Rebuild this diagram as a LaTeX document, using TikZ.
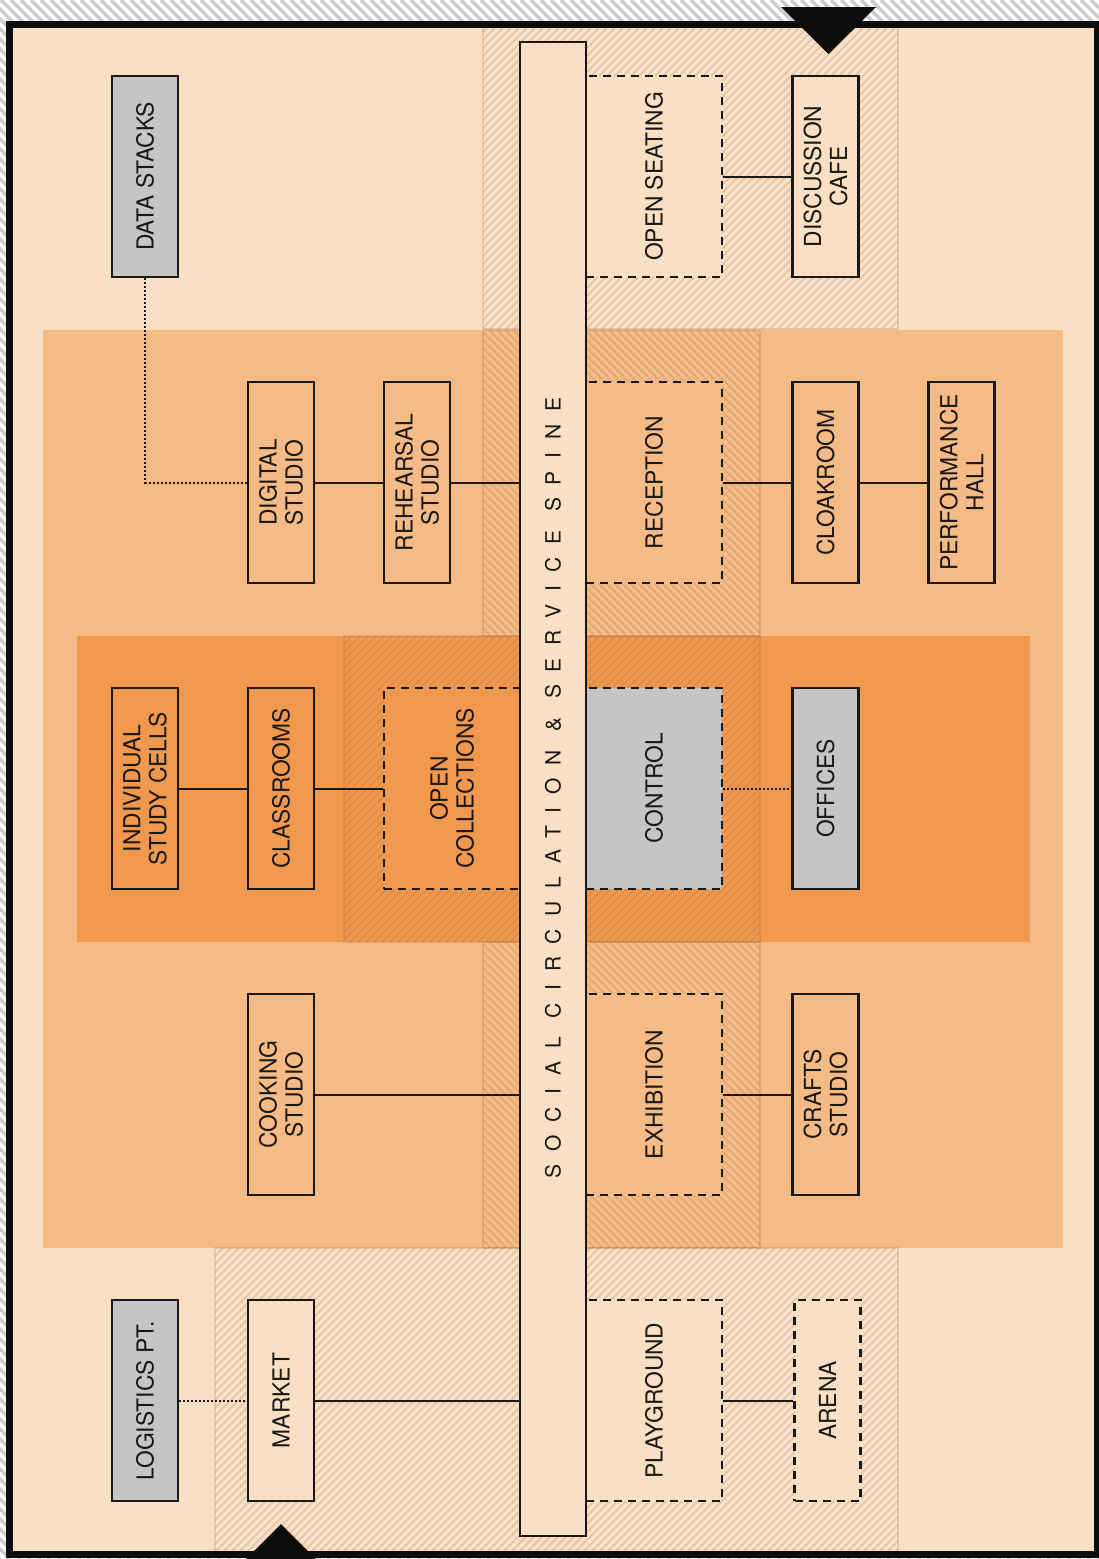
\documentclass[tikz,border=0pt]{standalone}
\usepackage{fontspec}
\usepackage{graphicx}
\newfontfamily\boxfont[FakeStretch=0.97]{TeX Gyre Heros}
\newfontfamily\spinefont[LetterSpace=61]{TeX Gyre Heros}
\definecolor{peach}{RGB}{249,223,196}
\definecolor{lorange}{RGB}{245,187,135}
\definecolor{dorange}{RGB}{241,152,79}
\definecolor{greybox}{RGB}{197,197,197}
\definecolor{textc}{RGB}{26,24,20}
\definecolor{hatchc}{RGB}{150,100,60}
\definecolor{outerhatch}{RGB}{204,204,204}
\newcommand\vlab[1]{\rotatebox{90}{\vbox{\baselineskip=26pt\halign{\hfil##\hfil\cr#1\crcr}}}}
% "/" hatch: x+y=c
\newcommand\hatchNE[5]{%
  \begin{scope}
    \clip (#1,#2) rectangle (#3,#4);
    \pgfmathsetmacro\cA{#1+#2}
    \pgfmathtruncatemacro\nN{((#3+#4)-(#1+#2))/#5+1}
    \foreach \i in {0,...,\nN}{
      \pgfmathsetmacro\c{\cA+#5*\i}
      \draw[hatchline] (\c-#4,#4) -- (\c-#2,#2);
    }
  \end{scope}}
% "\" hatch: x-y=c
\newcommand\hatchNW[5]{%
  \begin{scope}
    \clip (#1,#2) rectangle (#3,#4);
    \pgfmathsetmacro\cA{#1-#4}
    \pgfmathtruncatemacro\nN{((#3-#2)-(#1-#4))/#5+1}
    \foreach \i in {0,...,\nN}{
      \pgfmathsetmacro\c{\cA+#5*\i}
      \draw[hatchline] (\c+#2,#2) -- (\c+#4,#4);
    }
  \end{scope}}
\begin{document}
\begin{tikzpicture}[x=1pt,y=-1pt,
  hatchline/.style={draw=hatchc, draw opacity=0.27, line width=1.2pt},
  zoneborder/.style={draw=hatchc, draw opacity=0.2, line width=2pt},
  room/.style={draw=textc, line width=2.4pt, minimum width=66pt, minimum height=201pt,
    inner sep=0pt, text=textc, font=\boxfont\fontsize{23.5}{26}\selectfont},
  droom/.style={room, dash pattern=on 8pt off 6pt},
  wideroom/.style={minimum width=136pt},
  conn/.style={draw=textc, line width=2pt},
  dotconn/.style={draw=textc, line width=2pt, dash pattern=on 2pt off 2pt}]
\useasboundingbox (0,0) rectangle (1099,1559);
% outer margin
\fill[white] (0,0) rectangle (1099,1559);
\begin{scope}[hatchline/.style={draw=outerhatch, line width=3.2pt}]
  \hatchNW{0}{0}{1099}{1559}{10}
\end{scope}
% site
\fill[peach] (9.5,24) rectangle (1097.5,1554);
\fill[lorange] (43,330) rectangle (1063,1248);
\fill[dorange] (77,636) rectangle (1030,942);
% hatched zones
\hatchNE{483}{24}{898}{329}{8}
\draw[zoneborder] (483,24) rectangle (898,329);
\hatchNW{483}{330}{760}{636}{8}
\draw[zoneborder] (483,330) rectangle (760,636);
\hatchNE{344}{636}{760}{942}{8}
\draw[zoneborder] (344,636) rectangle (760,942);
\hatchNW{483}{942}{760}{1248}{8}
\draw[zoneborder] (483,942) rectangle (760,1248);
\hatchNE{215}{1248}{898}{1554}{8}
\draw[zoneborder] (215,1248) rectangle (898,1554);
% rooms
\node[room, fill=greybox] (ds) at (145,176.5) {\vlab{DATA STACKS}};
\node[droom, wideroom, fill=peach] (os) at (654,176.5) {\vlab{OPEN SEATING}};
\node[room, fill=peach] (dc) at (825.5,176.5) {\vlab{DISCUSSION\cr CAFE}};
\node[room, fill=lorange] (dig) at (281,482.5) {\vlab{DIGITAL\cr STUDIO}};
\node[room, fill=lorange] (reh) at (417,482.5) {\vlab{REHEARSAL\cr STUDIO}};
\node[droom, wideroom, fill=lorange] (rec) at (654,482.5) {\vlab{RECEPTION}};
\node[room, fill=lorange] (clk) at (825.5,482.5) {\vlab{CLOAKROOM}};
\node[room, fill=lorange] (perf) at (961.5,482.5) {\vlab{PERFORMANCE\cr HALL}};
\node[room, fill=dorange] (isc) at (145,788.5) {\vlab{INDIVIDUAL\cr STUDY CELLS}};
\node[room, fill=dorange] (cls) at (281,788.5) {\vlab{CLASSROOMS}};
\node[droom, wideroom, fill=dorange] (oc) at (452,788.5) {\vlab{OPEN\cr COLLECTIONS}};
\node[droom, wideroom, fill=greybox] (ctrl) at (654,788.5) {\vlab{CONTROL}};
\node[room, fill=greybox] (off) at (825.5,788.5) {\vlab{OFFICES}};
\node[room, fill=lorange] (cook) at (281,1094.5) {\vlab{COOKING\cr STUDIO}};
\node[droom, wideroom, fill=lorange] (exh) at (654,1094.5) {\vlab{EXHIBITION}};
\node[room, fill=lorange] (crf) at (825.5,1094.5) {\vlab{CRAFTS\cr STUDIO}};
\node[room, fill=greybox] (log) at (145,1400.5) {\vlab{LOGISTICS PT.}};
\node[room, fill=peach] (mkt) at (281,1400.5) {\vlab{MARKET}};
\node[droom, wideroom, fill=peach] (pg) at (654,1400.5) {\vlab{PLAYGROUND}};
\node[droom, fill=peach] (arn) at (827.5,1400.5) {\vlab{ARENA}};
% spine
\node[draw=textc, line width=2.4pt, fill=peach, minimum width=66pt, minimum height=1494pt,
  inner sep=0pt, text=textc] (spine) at (553,789)
  {\rotatebox{90}{\spinefont\fontsize{21}{24}\selectfont SOCIAL CIRCULATION \& SERVICE SPINE\kern-2pt}};
% connectors
\draw[conn] (os) -- (dc);
\draw[dotconn] (ds) |- (dig);
\draw[conn] (dig) -- (reh);
\draw[conn] (reh) -- (reh -| spine.west);
\draw[conn] (rec) -- (clk);
\draw[conn] (clk) -- (perf);
\draw[conn] (isc) -- (cls);
\draw[conn] (cls) -- (oc);
\draw[dotconn] (ctrl) -- (off);
\draw[conn] (cook) -- (cook -| spine.west);
\draw[conn] (exh) -- (crf);
\draw[dotconn] (log) -- (mkt);
\draw[conn] (mkt) -- (mkt -| spine.west);
\draw[conn] (pg) -- (arn);
% frame
\draw[line width=7pt, draw=black!95] (9.5,24) rectangle (1097.5,1554);
% entrances
\fill[black!95] (781,7) -- (876,7) -- (828.5,54) -- cycle;
\fill[black!95] (281,1524) -- (328,1571) -- (234,1571) -- cycle;
\end{tikzpicture}
\end{document}
